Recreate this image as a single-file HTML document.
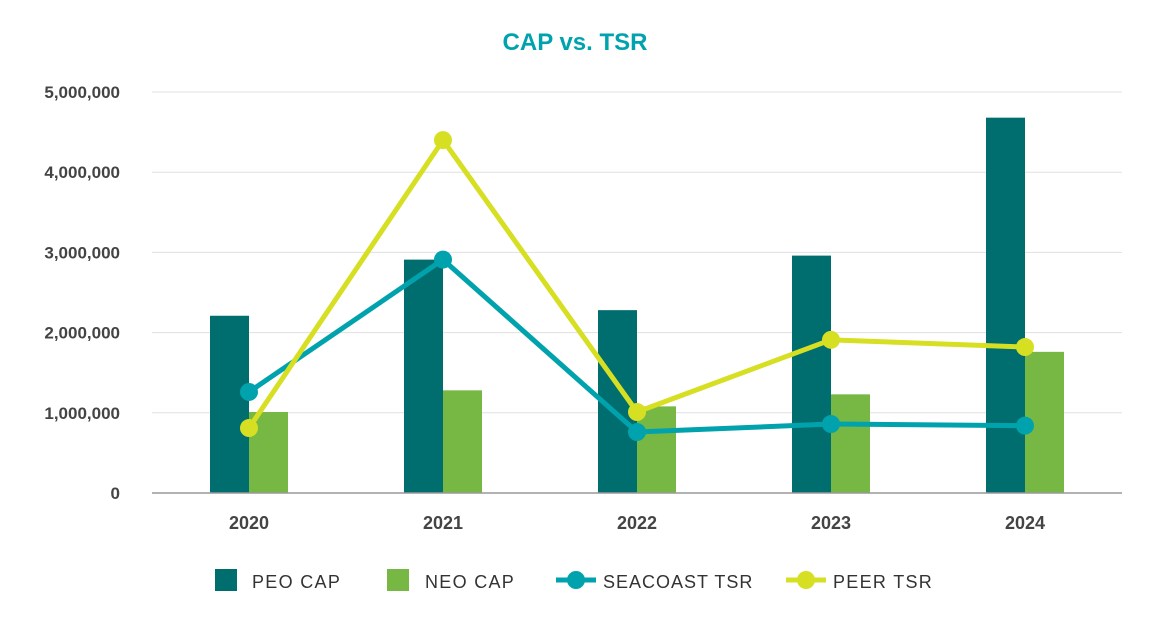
<!DOCTYPE html>
<html><head><meta charset="utf-8"><style>
html,body{margin:0;padding:0;background:#fff;}
svg{display:block;font-family:"Liberation Sans",sans-serif;}
</style></head><body>
<svg id="chart" width="1152" height="632" viewBox="0 0 1152 632">
<text x="575" y="50" text-anchor="middle" font-size="24" font-weight="bold" fill="#00a3ad">CAP vs. TSR</text>
<g id="grid"></g><g id="bars"></g><g id="lines"></g><g id="axes"></g>
<g>
<rect x="215" y="569" width="22" height="22" fill="#006e6e"/>
<text x="252" y="588" font-size="18" fill="#333" letter-spacing="1.3">PEO CAP</text>
<rect x="387" y="569" width="22" height="22" fill="#76b843"/>
<text x="425" y="588" font-size="18" fill="#333" letter-spacing="1.3">NEO CAP</text>
<line x1="556" y1="580" x2="596" y2="580" stroke="#00a3ad" stroke-width="5"/>
<circle cx="576" cy="580" r="9" fill="#00a3ad"/>
<text x="603" y="588" font-size="18" fill="#333" letter-spacing="1">SEACOAST TSR</text>
<line x1="786" y1="580" x2="826" y2="580" stroke="#d7df23" stroke-width="5"/>
<circle cx="806" cy="580" r="9" fill="#d7df23"/>
<text x="833" y="588" font-size="18" fill="#333" letter-spacing="1.3">PEER TSR</text>
</g>
</svg>
<script>
const categories = ["2020","2021","2022","2023","2024"];
const peoCap = [2210000,2910000,2280000,2960000,4680000];
const neoCap = [1010000,1280000,1080000,1230000,1760000];
const seacoastTsr = [1260000,2910000,760000,860000,840000];
const peerTsr = [810000,4400000,1010000,1910000,1820000];
const yTicks = [0,1000000,2000000,3000000,4000000,5000000];
const yTickLabels = ["0","1,000,000","2,000,000","3,000,000","4,000,000","5,000,000"];

const NS="http://www.w3.org/2000/svg";
const left=152,right=1122,y0=493,y5=92;
const band=(right-left)/categories.length;
const y=v=>y0-(v/5000000)*(y0-y5);
const xc=i=>left+band*(i+0.5);
function mk(tag,attrs,parent){const e=document.createElementNS(NS,tag);for(const k in attrs)e.setAttribute(k,attrs[k]);parent.appendChild(e);return e;}
const grid=document.getElementById('grid'),bars=document.getElementById('bars'),lines=document.getElementById('lines'),axes=document.getElementById('axes');
yTicks.forEach((t,i)=>{
  if(i>0){const g=mk('line',{x1:left,x2:right,y1:y(t),y2:y(t),stroke:'#e0e0e0','stroke-width':1},grid);
  
  }
  const l=mk('text',{x:120,y:y(t)+6,'text-anchor':'end','font-size':17,'font-weight':'bold',fill:'#444'},axes);
  l.textContent=yTickLabels[i];
  
  
});
const ax=mk('line',{x1:left,x2:right,y1:y0,y2:y0,stroke:'#999','stroke-width':1.5},axes);


const bw=39;
categories.forEach((c,i)=>{
  const b1=mk('rect',{x:xc(i)-bw,y:y(peoCap[i]),width:bw,height:y0-y(peoCap[i]),fill:'#006e6e'},bars);
  
  
  const b2=mk('rect',{x:xc(i),y:y(neoCap[i]),width:bw,height:y0-y(neoCap[i]),fill:'#76b843'},bars);
  
  
  const t=mk('text',{x:xc(i),y:529,'text-anchor':'middle','font-size':18,'font-weight':'bold',fill:'#444'},axes);
  t.textContent=c;
  
  
});
function series(vals,color,name){
  const p=mk('polyline',{points:vals.map((v,i)=>xc(i)+','+y(v)).join(' '),fill:'none',stroke:color,'stroke-width':5,'stroke-linejoin':'round'},lines);
  
  
  vals.forEach((v,i)=>{
    const c=mk('circle',{cx:xc(i),cy:y(v),r:9,fill:color},lines);
    
    
  });
}
series(seacoastTsr,'#00a3ad','seacoast-tsr');
series(peerTsr,'#d7df23','peer-tsr');
</script>
</body></html>
